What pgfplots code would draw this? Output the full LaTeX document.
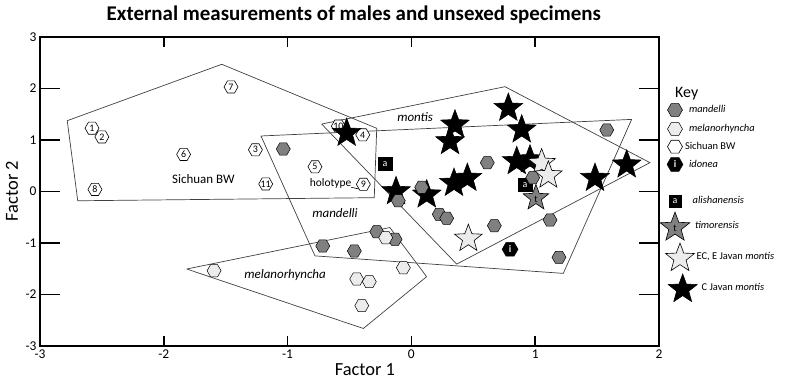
\documentclass[border=0pt]{standalone}
\usepackage{pgfplots}
\pgfplotsset{compat=1.18}
\usepackage{fontspec}
\setmainfont{Carlito}
\definecolor{mgray}{HTML}{808080}
\definecolor{lgray}{HTML}{ECECEC}
\definecolor{pline}{HTML}{404040}

\newcommand\hexpath{%
  \pgfpathmoveto{\pgfpointpolar{0}{\pgfplotmarksize}}%
  \pgfpathlineto{\pgfpointpolar{60}{\pgfplotmarksize}}%
  \pgfpathlineto{\pgfpointpolar{120}{\pgfplotmarksize}}%
  \pgfpathlineto{\pgfpointpolar{180}{\pgfplotmarksize}}%
  \pgfpathlineto{\pgfpointpolar{240}{\pgfplotmarksize}}%
  \pgfpathlineto{\pgfpointpolar{300}{\pgfplotmarksize}}%
  \pgfpathclose}
\newcommand\starpath{%
  \pgftransformshift{\pgfpoint{0pt}{-0.095\pgfplotmarksize}}%
  \pgfpathmoveto{\pgfpointpolar{90}{\pgfplotmarksize}}%
  \pgfpathlineto{\pgfpointpolar{126}{0.42\pgfplotmarksize}}%
  \pgfpathlineto{\pgfpointpolar{162}{\pgfplotmarksize}}%
  \pgfpathlineto{\pgfpointpolar{198}{0.42\pgfplotmarksize}}%
  \pgfpathlineto{\pgfpointpolar{234}{\pgfplotmarksize}}%
  \pgfpathlineto{\pgfpointpolar{270}{0.42\pgfplotmarksize}}%
  \pgfpathlineto{\pgfpointpolar{306}{\pgfplotmarksize}}%
  \pgfpathlineto{\pgfpointpolar{342}{0.42\pgfplotmarksize}}%
  \pgfpathlineto{\pgfpointpolar{18}{\pgfplotmarksize}}%
  \pgfpathlineto{\pgfpointpolar{54}{0.42\pgfplotmarksize}}%
  \pgfpathclose}
\pgfdeclareplotmark{hex}{\hexpath\pgfusepathqfillstroke}
\pgfdeclareplotmark{ihex}{\hexpath\pgfusepathqfillstroke
  \pgftext{\color{white}\fontsize{10}{10}\selectfont\bfseries i}}
\pgfdeclareplotmark{fstar}{\starpath\pgfusepathqfillstroke}
\pgfdeclareplotmark{tstar}{\starpath\pgfusepathqfillstroke
  \pgftext[at=\pgfpoint{0pt}{-1pt}]{\color{black}\fontsize{10}{10}\selectfont t}}
\pgfdeclareplotmark{asq}{%
  \pgfpathrectanglecorners{\pgfpoint{-\pgfplotmarksize}{-0.93\pgfplotmarksize}}{\pgfpoint{\pgfplotmarksize}{0.93\pgfplotmarksize}}%
  \pgfusepathqfillstroke
  \pgftext{\color{white}\fontsize{10}{10}\selectfont a}}

\begin{document}
\begin{tikzpicture}
\useasboundingbox (-40bp,-36bp) rectangle (748bp,346bp);
\begin{axis}[
  scale only axis, width=619bp, height=309bp, clip=false,
  xmin=-3, xmax=2, ymin=-3, ymax=3,
  xtick={-3,-2,-1,0,1,2}, ytick=\empty,
  extra y ticks={-3,-2,-1,0,1,2,3},
  extra y tick style={major tick length=20bp},
  major tick length=10bp,
  tick align=inside, tick pos=both,
  every tick/.append style={black, line width=1.5bp},
  axis line style={line width=1.5bp},
  /pgf/number format/assume math mode=true,
  tick label style={font=\fontsize{13.5}{13.5}\selectfont},
  title={External measurements of males and unsexed specimens},
  every axis title/.style={at={(axis description cs:0.507,1.0528)}, anchor=base, font=\bfseries\fontsize{21}{21}\selectfont},
  xlabel={Factor 1}, ylabel={Factor 2},
  xlabel style={at={(axis description cs:0.525,-0.0777)}, anchor=center, font=\fontsize{18.5}{18.5}\selectfont},
  ylabel style={at={(axis description cs:-0.0452,0.5016)}, anchor=center, font=\fontsize{18.5}{18.5}\selectfont},
  legend style={at={(axis description cs:1.01292,0.79288)}, anchor=north west, draw=none, fill=none,
    inner sep=0pt, outer sep=0pt, font=\fontsize{10.5}{12}\selectfont, row sep=0pt, column sep=0bp,
    /tikz/every even column/.style={column sep=0bp}, /tikz/every odd column/.style={column sep=0bp},
    nodes={inner sep=0pt, outer sep=0pt}},
  legend cell align=left,
]
% convex hulls
\addplot[forget plot, draw=pline, line width=0.7bp, mark=none] coordinates {(-2.78,1.375) (-1.532,2.47) (-0.28,1.227) (-0.30,-0.12) (-2.695,-0.18) (-2.78,1.375)};
\addplot[forget plot, draw=pline, line width=0.7bp, mark=none] coordinates {(-1.215,1.078) (1.779,1.40) (1.227,-1.59) (-0.779,-1.25) (-1.215,1.078)};
\addplot[forget plot, draw=pline, line width=0.7bp, mark=none] coordinates {(-0.725,1.31) (0.756,2.035) (1.927,0.56) (0.366,-1.41) (-0.725,1.31)};
\addplot[forget plot, draw=pline, line width=0.7bp, mark=none] coordinates {(-1.815,-1.505) (-0.174,-0.70) (0.123,-1.654) (-0.388,-2.66) (-1.815,-1.505)};
\addplot[forget plot, draw=black, line width=0.6bp, mark=none] coordinates {(-0.487,0.082) (-0.412,0.043)};

% Sichuan BW
\addplot[forget plot, only marks, mark=hex, mark size=7bp, mark options={fill=white, draw=black, line width=0.6bp},
  nodes near coords, point meta=explicit symbolic,
  every node near coord/.append style={anchor=center, inner sep=0pt, font=\fontsize{10}{10}\selectfont, text=black}]
  table[meta=lab] {
x y lab
-2.58 1.23 1
-2.50 1.06 2
-1.26 0.81 3
-0.393 1.10 4
-0.779 0.48 5
-1.84 0.72 6
-1.457 2.03 7
-2.556 0.04 8
-0.388 0.14 9
-0.59 1.27 10
-1.177 0.146 11
};

% C Javan montis
\addplot[forget plot, only marks, mark=fstar, mark size=15bp, mark options={fill=black, draw=black, line width=0.6bp}]
  table {
x y
-0.523 1.161
0.352 1.324
0.312 1.000
0.783 1.647
0.891 1.227
0.851 0.612
0.958 0.645
1.483 0.287
1.739 0.548
-0.124 0.029
0.124 -0.035
0.344 0.190
0.452 0.287
};

% EC, E Javan montis
\addplot[forget plot, only marks, mark=fstar, mark size=14.5bp, mark options={fill=lgray, draw=black, line width=0.6bp}]
  table {
x y
1.052 0.579
1.106 0.340
0.460 -0.889
};

% alishanensis
\addplot[forget plot, only marks, mark=asq, mark size=6.8bp, mark options={fill=black, draw=black}]
  table {
x y
-0.213 0.534
0.918 0.126
};

% mandelli
\addplot[forget plot, only marks, mark=hex, mark size=7bp, mark options={fill=mgray, draw=black, line width=0.5bp}]
  table {
x y
-1.035 0.825
1.578 1.194
0.613 0.559
0.083 0.082
-0.106 -0.179
0.980 0.268
0.225 -0.443
0.285 -0.520
0.670 -0.664
1.120 -0.553
1.192 -1.278
-0.132 -0.928
-0.716 -1.058
-0.461 -1.155
-0.280 -0.781
};

% melanorhyncha
\addplot[forget plot, only marks, mark=hex, mark size=7bp, mark options={fill=lgray, draw=black, line width=0.5bp}]
  table {
x y
-1.594 -1.538
-0.442 -1.699
-0.340 -1.751
-0.401 -2.217
-0.208 -0.897
-0.065 -1.480
};

% timorensis
\addplot[forget plot, only marks, mark=tstar, mark size=13.5bp, mark options={fill=mgray, draw=black, line width=0.6bp}]
  table {
x y
1.006 -0.101
};

% idonea
\addplot[forget plot, only marks, mark=ihex, mark size=8bp, mark options={fill=black, draw=black}]
  table {
x y
0.797 -1.122
};

% group labels
\node[font=\fontsize{13}{13}\selectfont] at (axis cs:-1.68,0.237) {Sichuan BW};
\node[font=\fontsize{11.5}{11.5}\selectfont] at (axis cs:-0.652,0.159) {holotype};
\node[font=\itshape\fontsize{13}{13}\selectfont] at (axis cs:-0.617,-0.42) {mandelli};
\node[font=\itshape\fontsize{13}{13}\selectfont] at (axis cs:-1.02,-1.62) {melanorhyncha};
\node[font=\itshape\fontsize{13}{13}\selectfont] at (axis cs:0.03,1.45) {montis};
\node[anchor=west, font=\fontsize{16}{16}\selectfont] at (axis description cs:1.0205,0.8178) {Key};

% legend
\addlegendimage{legend image code/.code={\path[draw=none,fill=none] (0bp,-9.5bp) rectangle (22bp,9bp);
  \draw[overlay, mark=hex, mark size=7.5bp, mark options={fill=mgray, draw=black, line width=0.5bp}] plot coordinates {(8bp,0bp)};}}
\addlegendentry{\textit{mandelli}}
\addlegendimage{legend image code/.code={\path[draw=none,fill=none] (0bp,-9bp) rectangle (22bp,9.5bp);
  \draw[overlay, mark=hex, mark size=7.5bp, mark options={fill=lgray, draw=black, line width=0.5bp}] plot coordinates {(8bp,0bp)};}}
\addlegendentry{\textit{melanorhyncha}}
\addlegendimage{legend image code/.code={\path[draw=none,fill=none] (0bp,-9bp) rectangle (22bp,8.7bp);
  \draw[overlay, mark=hex, mark size=7.5bp, mark options={fill=white, draw=black, line width=0.6bp}] plot coordinates {(8bp,0bp)};}}
\addlegendentry{\hspace{-4bp}Sichuan BW}
\addlegendimage{legend image code/.code={\path[draw=none,fill=none] (0bp,-9bp) rectangle (22bp,8.7bp);
  \draw[overlay, mark=ihex, mark size=8bp, mark options={fill=black, draw=black}] plot coordinates {(8bp,0bp)};}}
\addlegendentry{\textit{idonea}}
\addlegendimage{legend image code/.code={\path[draw=none,fill=none] (0bp,-9bp) rectangle (22bp,27.7bp);
  \draw[overlay, mark=asq, mark size=6.2bp, mark options={fill=black, draw=black}] plot coordinates {(8bp,0bp)};}}
\addlegendentry{\hspace{3.7bp}\textit{alishanensis}}
\addlegendimage{legend image code/.code={\path[draw=none,fill=none] (0bp,-15bp) rectangle (22bp,16bp);
  \draw[overlay, mark=tstar, mark size=15.5bp, mark options={fill=mgray, draw=black, line width=0.6bp}] plot coordinates {(8bp,0bp)};}}
\addlegendentry{\hspace{6bp}\textit{timorensis}}
\addlegendimage{legend image code/.code={\path[draw=none,fill=none] (0bp,-15.5bp) rectangle (22bp,15.7bp);
  \draw[overlay, mark=fstar, mark size=15.2bp, mark options={fill=lgray, draw=black, line width=0.6bp}] plot coordinates {(13bp,0bp)};}}
\addlegendentry{\hspace{7.7bp}EC, E Javan \textit{montis}}
\addlegendimage{legend image code/.code={\path[draw=none,fill=none] (0bp,-15bp) rectangle (22bp,15.5bp);
  \draw[overlay, mark=fstar, mark size=15.2bp, mark options={fill=black, draw=black, line width=0.6bp}] plot coordinates {(15.7bp,0bp)};}}
\addlegendentry{\hspace{12.7bp}C Javan \textit{montis}}
\end{axis}
\end{tikzpicture}
\end{document}
